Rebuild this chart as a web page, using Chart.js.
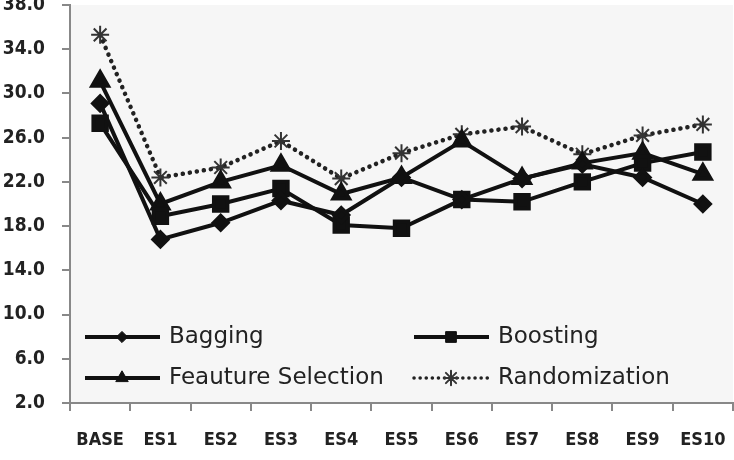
<!DOCTYPE html>
<html>
<head>
<meta charset="utf-8">
<script src="https://cdn.jsdelivr.net/npm/chart.js@4"></script>
<style>
  body { margin: 0; background: #fff; }
  canvas { display: block; }
</style>
</head>
<body>
<canvas id="myChart" width="734" height="460"></canvas>
<script>
// Categorías y series
const labels = ["BASE", "ES1", "ES2", "ES3", "ES4", "ES5", "ES6", "ES7", "ES8", "ES9", "ES10"];
const bagging = [29.1, 16.8, 18.3, 20.3, 19.0, 22.4, 20.4, 22.3, 23.6, 22.4, 20.0];
const boosting = [27.3, 18.9, 20.0, 21.4, 18.1, 17.8, 20.4, 20.2, 22.0, 23.7, 24.7];
const featureSel = [31.1, 20.0, 22.0, 23.5, 20.9, 22.4, 25.7, 22.3, 23.7, 24.6, 22.7];
const randomization = [35.3, 22.4, 23.3, 25.7, 22.3, 24.6, 26.3, 27.0, 24.5, 26.2, 27.2];
const yMin = 2, yMax = 38, yStep = 4;

const TICK_FONT = "'DejaVu Sans Condensed', 'DejaVu Sans', sans-serif";
const LEGEND_FONT = "'DejaVu Sans', sans-serif";

// fondo gris claro del área de trazado
const plotBg = {
  id: "plotBg",
  beforeDraw(chart) {
    const { ctx, chartArea: a } = chart;
    ctx.save();
    ctx.fillStyle = "#f6f6f6";
    ctx.fillRect(a.left, a.top, a.right - a.left, a.bottom - a.top);
    ctx.restore();
  },
};

// leyenda en dos columnas dentro del área
const innerLegend = {
  id: "innerLegend",
  afterDraw(chart) {
    const { ctx, chartArea: a } = chart;
    const slots = [
      { x: a.left + 13, y: a.bottom - 66 },
      { x: a.left + 342, y: a.bottom - 66 },
      { x: a.left + 13, y: a.bottom - 25 },
      { x: a.left + 342, y: a.bottom - 25 },
    ];
    chart.data.datasets.forEach((ds, i) => {
      const s = slots[i];
      ctx.save();
      ctx.strokeStyle = ds.borderColor;
      ctx.lineWidth = ds.borderDash ? 3.5 : ds.borderWidth;
      ctx.lineCap = ds.borderCapStyle || "butt";
      ctx.setLineDash(ds.borderDash ? [0.1, 6] : []);
      ctx.beginPath();
      ctx.moveTo(s.x + 2, s.y);
      ctx.lineTo(s.x + 77, s.y);
      ctx.stroke();
      ctx.setLineDash([]);
      ctx.fillStyle = ds.backgroundColor;
      ctx.strokeStyle = ds.pointBorderColor;
      ctx.lineWidth = ds.pointBorderWidth || 1;
      Chart.helpers.drawPoint(ctx, {
        pointStyle: ds.pointStyle,
        radius: ds.pointRadius * 0.8,
        rotation: 0,
        borderWidth: ds.pointBorderWidth || 1,
      }, s.x + 39, s.y);
      ctx.fillStyle = "#222";
      ctx.font = "23px " + LEGEND_FONT;
      ctx.textBaseline = "middle";
      ctx.fillText(ds.label, s.x + 86, s.y);
      ctx.restore();
    });
  },
};

const ctx = document.getElementById("myChart");
const myChart = new Chart(ctx, {
  type: "line",
  data: {
    labels: labels,
    datasets: [
      {
        label: "Bagging",
        data: bagging,
        borderColor: "#111",
        backgroundColor: "#111",
        pointBorderColor: "#111",
        borderWidth: 4,
        pointStyle: "rectRot",
        pointRadius: 7,
      },
      {
        label: "Boosting",
        data: boosting,
        borderColor: "#111",
        backgroundColor: "#111",
        pointBorderColor: "#111",
        borderWidth: 4,
        pointStyle: "rect",
        pointRadius: 9.5,
      },
      {
        label: "Feauture Selection",
        data: featureSel,
        borderColor: "#111",
        backgroundColor: "#111",
        pointBorderColor: "#111",
        borderWidth: 4,
        pointStyle: "triangle",
        pointRadius: 9,
      },
      {
        label: "Randomization",
        data: randomization,
        borderColor: "#222",
        backgroundColor: "#333",
        pointBorderColor: "#333",
        borderWidth: 4.5,
        borderDash: [0.1, 7],
        borderCapStyle: "round",
        pointStyle: "star",
        pointRadius: 9,
        pointBorderWidth: 2,
      },
    ],
  },
  options: {
    responsive: false,
    animation: false,
    layout: { autoPadding: false, padding: { top: 5, right: 1, left: 0, bottom: 0 } },
    plugins: {
      legend: { display: false },
      tooltip: { enabled: false },
    },
    scales: {
      x: {
        offset: true,
        grid: { offset: true, drawOnChartArea: false, tickLength: 8, color: "#888", lineWidth: 2 },
        border: { color: "#888", width: 2 },
        ticks: { color: "#222", padding: 19, font: { family: TICK_FONT, size: 18, weight: "bold" } },
        afterFit(scale) {
          scale.height = 57;
          scale.paddingLeft = 0;
          scale.paddingRight = 0;
        },
      },
      y: {
        min: yMin,
        max: yMax,
        ticks: {
          stepSize: yStep,
          color: "#222",
          padding: 17,
          font: { family: TICK_FONT, size: 19, weight: "bold" },
          callback: (v) => v.toFixed(1),
        },
        grid: { drawOnChartArea: false, tickLength: 8, color: "#888", lineWidth: 2 },
        border: { color: "#888", width: 2 },
        afterFit(scale) {
          scale.width = 70;
          scale.paddingTop = 0;
          scale.paddingBottom = 0;
        },
      },
    },
  },
  plugins: [plotBg, innerLegend],
});
</script>
</body>
</html>
